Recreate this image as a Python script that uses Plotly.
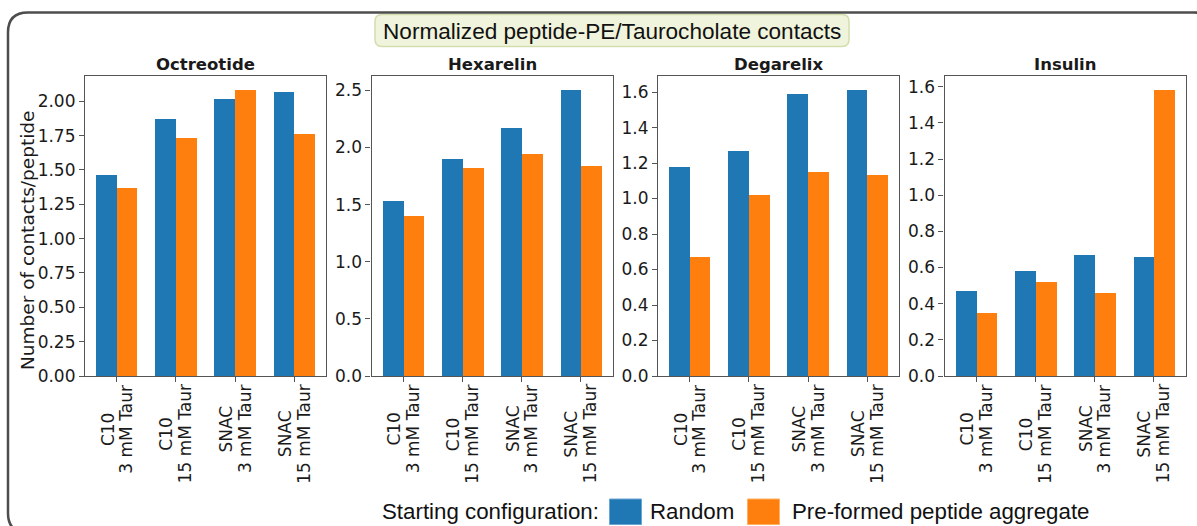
import plotly.graph_objects as go

# ---- data -------------------------------------------------------------
peptides = ["Octreotide", "Hexarelin", "Degarelix", "Insulin"]
condition_agents = ["C10", "C10", "SNAC", "SNAC"]
condition_taurocholate = ["3 mM Taur", "15 mM Taur", "3 mM Taur", "15 mM Taur"]
series_names = ["Random", "Pre-formed peptide aggregate"]

octreotide_random = [1.46, 1.87, 2.02, 2.07]
octreotide_aggregate = [1.37, 1.73, 2.08, 1.76]
hexarelin_random = [1.53, 1.90, 2.17, 2.50]
hexarelin_aggregate = [1.40, 1.82, 1.94, 1.84]
degarelix_random = [1.18, 1.27, 1.59, 1.61]
degarelix_aggregate = [0.67, 1.02, 1.15, 1.13]
insulin_random = [0.47, 0.58, 0.67, 0.66]
insulin_aggregate = [0.35, 0.52, 0.46, 1.58]

random_values = [octreotide_random, hexarelin_random, degarelix_random, insulin_random]
aggregate_values = [octreotide_aggregate, hexarelin_aggregate, degarelix_aggregate, insulin_aggregate]

ytick_steps = [0.25, 0.5, 0.2, 0.2]
ytick_formats = ["{:.2f}", "{:.1f}", "{:.1f}", "{:.1f}"]

# ---- styling ----------------------------------------------------------
W, H = 1197, 526
BLUE, ORANGE = "#1f77b4", "#ff7f0e"
SPINE = "#555555"
TEXT = "#1a1a1a"
MPL_FONT = "DejaVu Sans"
SANS = "Liberation Sans, Arial, sans-serif"
TICK_SIZE = 17

# DejaVu Sans advance widths (em) for the category label glyphs
DEJAVU_W = {"C": 0.698, "1": 0.636, "0": 0.636, "3": 0.636, "5": 0.636,
            "S": 0.635, "N": 0.748, "A": 0.684, " ": 0.318, "m": 0.974,
            "M": 0.863, "T": 0.611, "a": 0.613, "u": 0.634, "r": 0.411}


def text_len(s, size):
    return sum(DEJAVU_W.get(ch, 0.6) for ch in s) * size


def fx(px):
    return px / W


def fy(py):
    return 1 - py / H


def rounded_rect(x0, y0, x1, y1, r):
    pts = [
        ("M", (x0 + r, y0)), ("L", (x1 - r, y0)), ("Q", (x1, y0, x1, y0 + r)),
        ("L", (x1, y1 - r)), ("Q", (x1, y1, x1 - r, y1)),
        ("L", (x0 + r, y1)), ("Q", (x0, y1, x0, y1 - r)),
        ("L", (x0, y0 + r)), ("Q", (x0, y0, x0 + r, y0)),
    ]
    parts = []
    for cmd, c in pts:
        coords = []
        for i in range(0, len(c), 2):
            coords.append(f"{fx(c[i]):.5f},{fy(c[i + 1]):.5f}")
        parts.append(cmd + " " + " ".join(coords))
    return " ".join(parts) + " Z"


panel_left = [85, 371.5, 658, 944.5]
panel_width = 241
plot_top, plot_bottom = 76, 376
bar_w = 0.35
xpos = list(range(len(condition_agents)))

fig = go.Figure()
annotations = []

for k, name in enumerate(peptides):
    ax = "" if k == 0 else str(k + 1)
    xref, yref = "x" + ax, "y" + ax

    fig.add_trace(go.Bar(
        x=xpos, y=random_values[k], name=series_names[0],
        marker=dict(color=BLUE, line=dict(width=0)),
        width=bar_w, offset=-bar_w, xaxis=xref, yaxis=yref, showlegend=False,
    ))
    fig.add_trace(go.Bar(
        x=xpos, y=aggregate_values[k], name=series_names[1],
        marker=dict(color=ORANGE, line=dict(width=0)),
        width=bar_w, offset=0, xaxis=xref, yaxis=yref, showlegend=False,
    ))

    ymax = max(random_values[k] + aggregate_values[k]) * 1.05
    step = ytick_steps[k]
    n = int(ymax / step + 1e-9)
    tvals = [round(i * step, 4) for i in range(n + 1)]
    ttext = [ytick_formats[k].format(v) for v in tvals]

    common = dict(showline=True, linecolor=SPINE, linewidth=1.2, mirror=True,
                  ticks="outside", ticklen=5, tickwidth=1.1, tickcolor=SPINE,
                  showgrid=False, zeroline=False, automargin=False)
    fig.layout["xaxis" + ax] = dict(
        domain=[fx(panel_left[k]), fx(panel_left[k] + panel_width)],
        range=[-0.535, 3.535], tickvals=xpos, showticklabels=False,
        anchor=yref, **common)
    fig.layout["yaxis" + ax] = dict(
        domain=[fy(plot_bottom), fy(plot_top)], range=[0, ymax],
        tickvals=tvals, ticktext=ttext, anchor=xref,
        tickfont=dict(family=MPL_FONT, size=TICK_SIZE, color=TEXT), **common)

    # panel title
    annotations.append(dict(
        text=f"<b>{name}</b>", x=0.5, xref=xref + " domain",
        y=fy(64), yref="paper", xanchor="center", yanchor="middle",
        showarrow=False, font=dict(family=MPL_FONT, size=16.5, color=TEXT)))

    # two-line rotated category labels, both lines centred on the longer one
    for i in xpos:
        top_line, bottom_line = condition_agents[i], condition_taurocholate[i]
        long_len = max(text_len(top_line, TICK_SIZE), text_len(bottom_line, TICK_SIZE))
        centre_y = 383 + long_len / 2
        for line, shift in ((top_line, -9.3), (bottom_line, 9.3)):
            annotations.append(dict(
                text=line, x=i, xref=xref, xshift=shift,
                y=fy(centre_y), yref="paper",
                xanchor="center", yanchor="middle", textangle=-90,
                showarrow=False,
                font=dict(family=MPL_FONT, size=TICK_SIZE, color=TEXT)))

# shared y-axis title
annotations.append(dict(
    text="Number of contacts/peptide", x=fx(27), y=fy(241),
    xref="paper", yref="paper", xanchor="center", yanchor="middle",
    textangle=-90, showarrow=False,
    font=dict(family=MPL_FONT, size=18.5, color=TEXT)))

# headline
annotations.append(dict(
    text="Normalized peptide-PE/Taurocholate contacts",
    x=fx(612), y=fy(31), xref="paper", yref="paper",
    xanchor="center", yanchor="middle", showarrow=False,
    font=dict(family=SANS, size=22.6, color="#111111")))

# legend row
legend_font = dict(family=SANS, size=22.3, color="#111111")
for label, left in (("Starting configuration:", 380),
                    (series_names[0], 648), (series_names[1], 790)):
    annotations.append(dict(
        text=label, x=fx(left), y=fy(511.5), xref="paper", yref="paper",
        xanchor="left", yanchor="middle", showarrow=False, font=legend_font))

shapes = [
    # outer rounded frame
    dict(type="path", xref="paper", yref="paper",
         path=rounded_rect(8, 12.5, 1214, 533, 20),
         line=dict(color="#4d4d4d", width=2.5), fillcolor="rgba(0,0,0,0)"),
    # headline box
    dict(type="path", xref="paper", yref="paper", layer="below",
         path=rounded_rect(375, 14.5, 849, 46.5, 7),
         line=dict(color="#d2deae", width=1.5), fillcolor="#f0f4dc"),
    # legend patches
    dict(type="rect", xref="paper", yref="paper",
         x0=fx(609.5), x1=fx(641.5), y0=fy(524.5), y1=fy(499),
         fillcolor=BLUE, line=dict(color="#6aa6d4", width=1)),
    dict(type="rect", xref="paper", yref="paper",
         x0=fx(747.5), x1=fx(779.5), y0=fy(524.5), y1=fy(499),
         fillcolor=ORANGE, line=dict(color="#ffb060", width=1)),
]

fig.update_layout(
    width=W, height=H, margin=dict(l=0, r=0, t=0, b=0, autoexpand=False),
    paper_bgcolor="white", plot_bgcolor="white",
    barmode="overlay", bargap=0, showlegend=False,
    annotations=annotations, shapes=shapes,
)

fig.write_html("out.html")
